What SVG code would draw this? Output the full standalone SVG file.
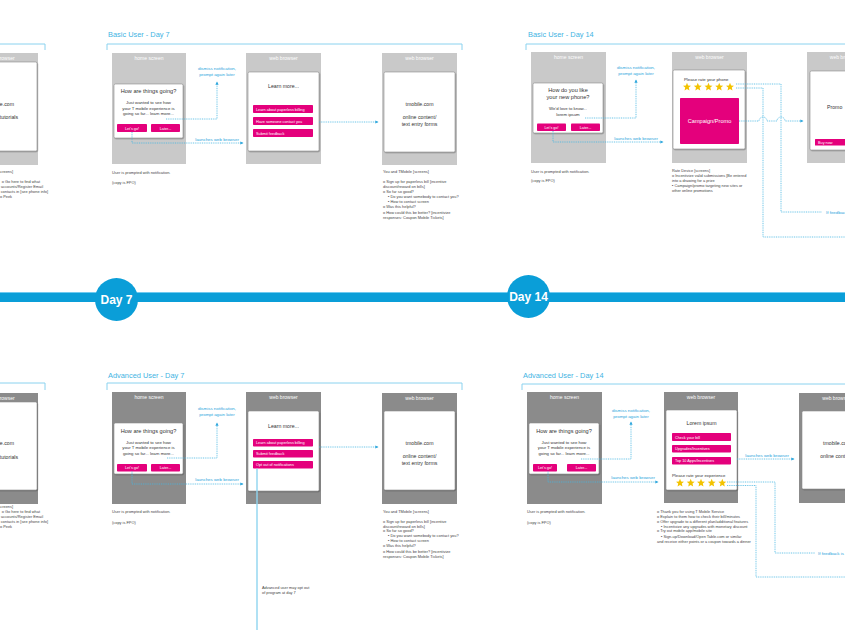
<svg xmlns="http://www.w3.org/2000/svg" xmlns:xlink="http://www.w3.org/1999/xlink" width="845" height="630" viewBox="0 0 845 630">
<defs>
<style>
text{font-family:"Liberation Sans",Arial,sans-serif}
.ph1{fill:#c9c9c9}
.ph2{fill:#8b8b8b}
.dlg{fill:#fff;stroke:#8f8f8f;stroke-width:.6;filter:url(#sh)}
.btn{fill:#e4007c}
.bt{fill:#fff;font-size:3.8px}
.btc{fill:#fff;font-size:3.8px;text-anchor:middle}
.lbl{fill:#fff;font-size:5px;text-anchor:middle}
.h{fill:#333;font-size:5.6px;text-anchor:middle}
.b{fill:#333;font-size:4.3px;text-anchor:middle}
.m{fill:#333;font-size:5.2px;text-anchor:middle}
.note{fill:#444;font-size:3.9px}
.noteE{fill:#444;font-size:3.9px;text-anchor:end}
.ttl{fill:#3fb4e3;font-size:7.4px}
.cl{fill:#2aa5dc;font-size:4.4px;text-anchor:middle}
.cls{fill:#2aa5dc;font-size:4.4px}
.con{stroke:#46b6e2;stroke-width:.8;fill:none;stroke-dasharray:1 .8}
.brk{stroke:#8ad2ef;stroke-width:1;fill:none}
.day{fill:#fff;font-family:"Liberation Sans Narrow","Liberation Sans",Arial,sans-serif;font-size:12px;font-weight:bold;text-anchor:middle}
.star{fill:#f3c300}
</style>
<filter id="sh" x="-10%" y="-10%" width="125%" height="125%">
<feDropShadow dx="0.6" dy="0.8" stdDeviation="0.6" flood-color="#000" flood-opacity="0.35"/>
</filter>
<marker id="ar" viewBox="0 0 6 6" refX="5" refY="3" markerWidth="4" markerHeight="4" orient="auto">
<path d="M0,0 L6,3 L0,6 Z" fill="#2aa5dc"/>
</marker>
<path id="star" d="M0,-4.2 L1.11,-1.53 L4,-1.3 L1.8,0.59 L2.47,3.4 L0,1.89 L-2.47,3.4 L-1.8,0.59 L-4,-1.3 L-1.11,-1.53 Z"/>
</defs>
<rect width="845" height="630" fill="#fff"/>

<!-- section titles and brackets -->
<g id="titles">
<text class="ttl" x="108" y="37">Basic User - Day 7</text>
<text class="ttl" x="528" y="37">Basic User - Day 14</text>
<text class="ttl" x="108" y="378">Advanced User - Day 7</text>
<text class="ttl" x="523" y="378">Advanced User - Day 14</text>
<path class="brk" d="M0,44 H45 V50"/>
<path class="brk" d="M107,50 V44 H462 V50"/>
<path class="brk" d="M526,50 V44 H845"/>
<path class="brk" d="M0,383 H45 V390"/>
<path class="brk" d="M107,390 V383 H462 V390"/>
<path class="brk" d="M522,390 V384 H845"/>
</g>

<!-- timeline -->
<g id="timeline">
<rect x="0" y="292" width="845" height="10" fill="#0a9ed8"/>
<line x1="0" y1="292.5" x2="845" y2="292.5" stroke="#6fcaf0" stroke-width="1"/>
<g id="day7"><circle cx="116.5" cy="299.5" r="21.5" fill="#0a9ed8"/><text class="day" x="116.5" y="304">Day 7</text></g>
<g id="day14"><circle cx="528.5" cy="296.5" r="21.5" fill="#0a9ed8"/><text class="day" x="528.5" y="301">Day 14</text></g>
</g>

<!-- TOP ROW -->
<g id="top-left-browser">
<rect class="ph1" x="-37" y="53" width="75" height="112"/>
<text class="lbl" x="0.5" y="60">web browser</text>
<rect class="dlg" x="-35" y="62" width="72" height="89" rx="1.5"/>
<text class="m" x="0" y="106">tmobile.com</text>
<text class="m" x="0" y="119">Demos/tutorials</text>
<text class="noteE" x="13" y="173">You and TMobile [screens]</text>
<text class="noteE" x="40" y="183">o Go here to find what</text>
<text class="noteE" x="43" y="188">your accounts/Register Email</text>
<text class="noteE" x="48" y="193">o Sync contacts in [see phone info]</text>
<text class="noteE" x="12" y="198">o Sign up to Peek</text>
</g>

<g id="top-d7-home">
<rect class="ph1" x="112" y="53" width="74" height="111"/>
<text class="lbl" x="149" y="59.5">home screen</text>
<rect class="dlg" x="114" y="84" width="69" height="54" rx="1.5"/>
<text class="h" x="148.5" y="93">How are things going?</text>
<text class="b" x="148.5" y="104">Just wanted to see how</text>
<text class="b" x="148.5" y="109.5">your T mobile experience is</text>
<text class="b" x="148.5" y="115">going so far... learn more...</text>
<rect class="btn" x="117" y="124" width="30" height="8" rx="0.8"/>
<text class="btc" x="132" y="129.5">Let's go!</text>
<rect class="btn" x="151" y="124" width="29" height="8" rx="0.8"/>
<text class="btc" x="165.5" y="129.5">Later...</text>
<text class="note" x="112" y="174">User is prompted with notification.</text>
<text class="note" x="112" y="184">(copy is FPO)</text>
</g>

<g id="top-d7-browser1">
<rect class="ph1" x="246" y="53" width="75" height="111"/>
<text class="lbl" x="283.5" y="59.5">web browser</text>
<rect class="dlg" x="248" y="72" width="71" height="79" rx="1.5"/>
<text class="m" x="283.5" y="88">Learn more...</text>
<rect class="btn" x="253" y="105" width="60" height="8" rx="0.8"/>
<text class="bt" x="256" y="110.5">Learn about paperless billing</text>
<rect class="btn" x="253" y="117" width="60" height="8" rx="0.8"/>
<text class="bt" x="256" y="122.5">Have someone contact you</text>
<rect class="btn" x="253" y="129" width="60" height="8" rx="0.8"/>
<text class="bt" x="256" y="134.5">Submit feedback</text>
</g>

<g id="top-d7-browser2">
<rect class="ph1" x="382" y="53" width="75" height="112"/>
<text class="lbl" x="419.5" y="59.5">web browser</text>
<rect class="dlg" x="384" y="72" width="71" height="80" rx="1.5"/>
<text class="m" x="419.5" y="106">tmobile.com</text>
<text class="m" x="419.5" y="118.5">online content/</text>
<text class="m" x="419.5" y="125.5">text entry forms</text>
<text class="note" x="383" y="173">You and TMobile [screens]</text>
<text class="note" x="383" y="183">o Sign up for paperless bill [incentive</text>
<text class="note" x="383" y="188">discount/reward on bills]</text>
<text class="note" x="383" y="193">o So far so good?</text>
<text class="note" x="388" y="198">▪ Do you want somebody to contact you?</text>
<text class="note" x="388" y="203">▪ How to contact screen</text>
<text class="note" x="383" y="208">o Was this helpful?</text>
<text class="note" x="383" y="214">o How could this be better? [incentivize</text>
<text class="note" x="383" y="219">responses: Coupon Mobile Tickets]</text>
</g>

<g id="top-d14-home">
<rect class="ph1" x="531" y="52" width="75" height="111"/>
<text class="lbl" x="568.5" y="58.5">home screen</text>
<rect class="dlg" x="533" y="83" width="70" height="50" rx="1.5"/>
<text class="h" x="568" y="92">How do you like</text>
<text class="h" x="568" y="99">your new phone?</text>
<text class="b" x="568" y="110">We'd love to know...</text>
<text class="b" x="568" y="115.5">lorem ipsum</text>
<rect class="btn" x="537" y="123.5" width="29" height="7.5" rx="0.8"/>
<text class="btc" x="551.5" y="128.8">Let's go!</text>
<rect class="btn" x="571" y="123.5" width="29" height="7.5" rx="0.8"/>
<text class="btc" x="585.5" y="128.8">Later...</text>
<text class="note" x="531" y="173">User is prompted with notification.</text>
<text class="note" x="531" y="182">(copy is FPO)</text>
</g>

<g id="top-d14-rate">
<rect class="ph1" x="672" y="52" width="75" height="111"/>
<text class="lbl" x="709.5" y="58.5">web browser</text>
<rect class="dlg" x="673" y="70" width="72" height="79" rx="1.5"/>
<text class="b" x="684" y="80.5" style="text-anchor:start">Please rate your phone</text>
<use href="#star" class="star" x="687" y="87"/>
<use href="#star" class="star" x="697.8" y="87"/>
<use href="#star" class="star" x="708.5" y="87"/>
<use href="#star" class="star" x="719.2" y="87"/>
<use href="#star" class="star" x="730" y="87"/>
<rect class="btn" x="680" y="98" width="59" height="46" rx="0.8"/>
<text x="709.5" y="123" style="fill:#fff;font-size:5.6px;text-anchor:middle">Campaign/Promo</text>
<text class="note" x="672" y="172">Rate Device [screens]</text>
<text class="note" x="672" y="177">o Incentivize valid submissions [Be entered</text>
<text class="note" x="672" y="182">into a drawing for a prize</text>
<text class="note" x="672" y="186.5">▪ Campaign/promo targeting new sites or</text>
<text class="note" x="672" y="191.5">other online promotions</text>
</g>

<g id="top-d14-promo">
<rect class="ph1" x="807" y="52" width="75" height="111"/>
<text class="lbl" x="844" y="58.5">web browser</text>
<rect class="dlg" x="810" y="71" width="70" height="79" rx="1.5"/>
<text class="m" x="827" y="109" style="text-anchor:start">Promo</text>
<rect class="btn" x="815" y="139" width="40" height="6.5" rx="0.5"/>
<text class="bt" x="818" y="143.5">Buy now</text>
<text class="cls" x="826" y="213.5">If feedback is ...</text>
</g>

<!-- BOTTOM ROW -->
<g id="bot-left-browser">
<rect class="ph2" x="-37" y="393" width="75" height="111"/>
<text class="lbl" x="0.5" y="399.5">web browser</text>
<rect class="dlg" x="-35" y="402" width="72" height="88" rx="1.5"/>
<text class="m" x="0" y="445">tmobile.com</text>
<text class="m" x="0" y="458.5">Demos/tutorials</text>
<text class="noteE" x="13" y="508">You and TMobile [screens]</text>
<text class="noteE" x="40" y="513">o Go here to find what</text>
<text class="noteE" x="43" y="518">your accounts/Register Email</text>
<text class="noteE" x="48" y="523">o Sync contacts in [see phone info]</text>
<text class="noteE" x="12" y="528">o Sign up to Peek</text>
</g>

<g id="bot-d7-home">
<rect class="ph2" x="112" y="392" width="74" height="112"/>
<text class="lbl" x="149" y="398.5">home screen</text>
<rect class="dlg" x="114" y="423" width="69" height="51" rx="1.5"/>
<text class="h" x="148.5" y="432.5">How are things going?</text>
<text class="b" x="148.5" y="443.5">Just wanted to see how</text>
<text class="b" x="148.5" y="449">your T mobile experience is</text>
<text class="b" x="148.5" y="454.5">going so far... learn more...</text>
<rect class="btn" x="117" y="464" width="30" height="7.5" rx="0.8"/>
<text class="btc" x="132" y="469.3">Let's go!</text>
<rect class="btn" x="151" y="464" width="29" height="7.5" rx="0.8"/>
<text class="btc" x="165.5" y="469.3">Later...</text>
<text class="note" x="112" y="513">User is prompted with notification.</text>
<text class="note" x="112" y="524">(copy is FPO)</text>
</g>

<g id="bot-d7-browser1">
<rect class="ph2" x="246" y="392" width="75" height="112"/>
<text class="lbl" x="283.5" y="398.5">web browser</text>
<rect class="dlg" x="248" y="411" width="71" height="80" rx="1.5"/>
<text class="m" x="283.5" y="427.5">Learn more...</text>
<rect class="btn" x="253" y="439" width="60" height="7.5" rx="0.8"/>
<text class="bt" x="256" y="444.2">Learn about paperless billing</text>
<rect class="btn" x="253" y="450" width="60" height="7.5" rx="0.8"/>
<text class="bt" x="256" y="455.2">Submit feedback</text>
<rect class="btn" x="253" y="461" width="60" height="7.5" rx="0.8"/>
<text class="bt" x="256" y="466.2">Opt out of notifications</text>
<text class="note" x="262" y="589">Advanced user may opt out</text>
<text class="note" x="262" y="594">of program at day 7</text>
</g>

<g id="bot-d7-browser2">
<rect class="ph2" x="382" y="393" width="75" height="111"/>
<text class="lbl" x="419.5" y="399.5">web browser</text>
<rect class="dlg" x="384" y="411" width="71" height="79" rx="1.5"/>
<text class="m" x="419.5" y="445">tmobile.com</text>
<text class="m" x="419.5" y="458">online content/</text>
<text class="m" x="419.5" y="465">text entry forms</text>
<text class="note" x="383" y="513">You and TMobile [screens]</text>
<text class="note" x="383" y="523">o Sign up for paperless bill [incentive</text>
<text class="note" x="383" y="527.5">discount/reward on bills]</text>
<text class="note" x="383" y="532">o So far so good?</text>
<text class="note" x="388" y="537">▪ Do you want somebody to contact you?</text>
<text class="note" x="388" y="542">▪ How to contact screen</text>
<text class="note" x="383" y="547">o Was this helpful?</text>
<text class="note" x="383" y="552.5">o How could this be better? [incentivize</text>
<text class="note" x="383" y="557.5">responses: Coupon Mobile Tickets]</text>
</g>

<g id="bot-d14-home">
<rect class="ph2" x="527" y="392" width="75" height="112"/>
<text class="lbl" x="564.5" y="398.5">home screen</text>
<rect class="dlg" x="529" y="423" width="70" height="51" rx="1.5"/>
<text class="h" x="564" y="432.5">How are things going?</text>
<text class="b" x="564" y="443.5">Just wanted to see how</text>
<text class="b" x="564" y="449">your T mobile experience is</text>
<text class="b" x="564" y="454.5">going so far... learn more...</text>
<rect class="btn" x="533" y="464" width="24" height="7.5" rx="0.8"/>
<text class="btc" x="545" y="469.3">Let's go!</text>
<rect class="btn" x="567" y="464" width="29" height="7.5" rx="0.8"/>
<text class="btc" x="581.5" y="469.3">Later...</text>
<text class="note" x="527" y="513">User is prompted with notification.</text>
<text class="note" x="527" y="524">(copy is FPO)</text>
</g>

<g id="bot-d14-browser1">
<rect class="ph2" x="664" y="392" width="74" height="111"/>
<text class="lbl" x="701" y="398.5">web browser</text>
<rect class="dlg" x="666" y="410" width="71" height="80" rx="1.5"/>
<text class="m" x="701.5" y="425">Lorem ipsum</text>
<rect class="btn" x="672" y="433" width="59" height="8" rx="0.8"/>
<text class="bt" x="675" y="438.5">Check your bill</text>
<rect class="btn" x="672" y="445" width="59" height="7.5" rx="0.8"/>
<text class="bt" x="675" y="450.3">Upgrades/Incentives</text>
<rect class="btn" x="672" y="457" width="59" height="7.5" rx="0.8"/>
<text class="bt" x="675" y="462.3">Top 10 Apps/Incentives</text>
<text class="b" x="672" y="476.5" style="text-anchor:start">Please rate your experience</text>
<use href="#star" class="star" x="680" y="483"/>
<use href="#star" class="star" x="690.7" y="483"/>
<use href="#star" class="star" x="701" y="483"/>
<use href="#star" class="star" x="711.7" y="483"/>
<use href="#star" class="star" x="722.3" y="483"/>
<text class="note" x="657" y="513">o Thank you for using T Mobile Service</text>
<text class="note" x="657" y="518">o Explain to them how to check their bill/minutes</text>
<text class="note" x="657" y="523">o Offer upgrade to a different plan/additional features</text>
<text class="note" x="661" y="527.5">▪ Incentivize any upgrades with monetary discount</text>
<text class="note" x="657" y="532">o Try out mobile app/mobile site</text>
<text class="note" x="661" y="537.5">▪ Sign-up/Download/Open Table.com or similar</text>
<text class="note" x="657" y="543">and receive either points or a coupon towards a dinner</text>
</g>

<g id="bot-d14-browser2">
<rect class="ph2" x="799" y="393" width="75" height="110"/>
<text class="lbl" x="836.5" y="399.5">web browser</text>
<rect class="dlg" x="802" y="411" width="70" height="78" rx="1.5"/>
<text class="m" x="837" y="445">tmobile.com</text>
<text class="m" x="837" y="458">online content/</text>
<text class="cls" x="818" y="554.5">If feedback is ...</text>
</g>

<!-- connectors -->
<g id="connectors">
<path class="con" d="M166,119 H217 V82" marker-end="url(#ar)"/>
<text class="cl" x="217" y="69.5">dismiss notification,</text>
<text class="cl" x="217" y="75.5">prompt again later</text>
<path class="con" d="M132,132 V143 H243" marker-end="url(#ar)"/>
<text class="cl" x="217" y="140.5">launches web browser</text>
<path class="con" d="M319,122 H378" marker-end="url(#ar)"/>

<path class="con" d="M585,118 H636 V80" marker-end="url(#ar)"/>
<text class="cl" x="636" y="68.5">dismiss notification,</text>
<text class="cl" x="636" y="74.5">prompt again later</text>
<path class="con" d="M553,131 V142 H663" marker-end="url(#ar)"/>
<text class="cl" x="636" y="139.5">launches web browser</text>
<path class="con" d="M736,84 H781 V212 H822"/>
<path class="con" d="M736,88 H763 V237 H845"/>
<path class="con" d="M739,121 H759 a4,4 0 0 1 8,0 H777 a4,4 0 0 1 8,0 H803" marker-end="url(#ar)"/>

<path class="con" d="M167,458 H217 V423" marker-end="url(#ar)"/>
<text class="cl" x="217" y="409.5">dismiss notification,</text>
<text class="cl" x="217" y="415.5">prompt again later</text>
<path class="con" d="M132,471.5 V484 H243" marker-end="url(#ar)"/>
<text class="cl" x="217" y="481">launches web browser</text>
<path class="con" d="M319,447 H378" marker-end="url(#ar)"/>
<path d="M257,468.5 V630" stroke="#8fd4ef" stroke-width="1.4" fill="none"/>

<path class="con" d="M581,459 H631 V422" marker-end="url(#ar)"/>
<text class="cl" x="631" y="412">dismiss notification,</text>
<text class="cl" x="631" y="418">prompt again later</text>
<path class="con" d="M548,471.5 V482 H658" marker-end="url(#ar)"/>
<text class="cl" x="633" y="479">launches web browser</text>
<path class="con" d="M737,459 H794" marker-end="url(#ar)"/>
<text class="cl" x="767" y="456.5">launches web browser</text>
<path class="con" d="M727,482 H775 V553 H815"/>
<path class="con" d="M727,485.5 H756 V577 H845"/>
</g>
</svg>
